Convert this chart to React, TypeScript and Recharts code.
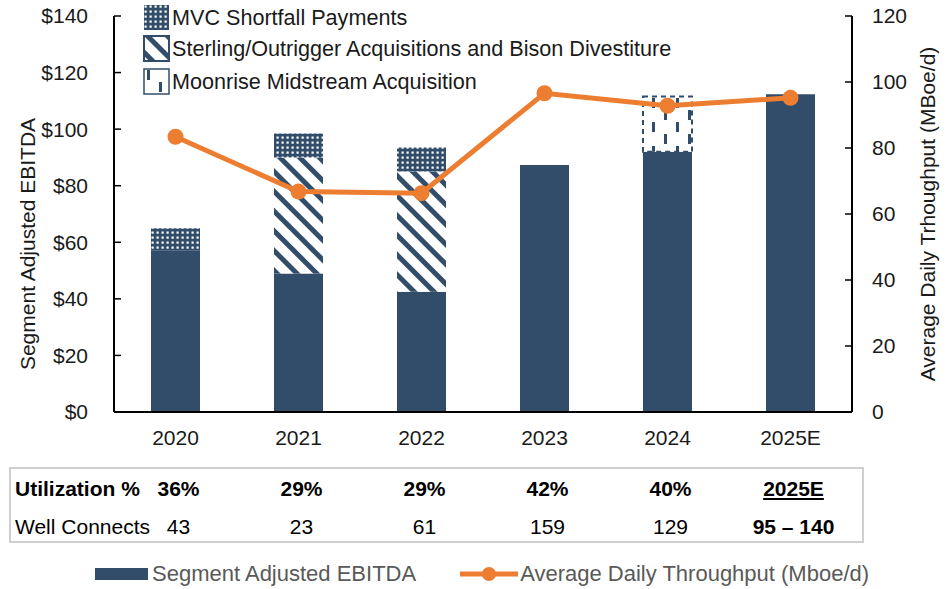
import React from 'react';
import { ComposedChart, Bar, Line, XAxis, YAxis } from 'recharts';

const years = ['2020', '2021', '2022', '2023', '2024', '2025E'];
const baseEbitda = [57, 49, 42.5, 87.3, 92, 112.3];
const sterlingOutrigger = [null, 41, 42.5, null, null, null];
const moonrise = [null, null, null, null, 19.5, null];
const mvcShortfall = [8, 8.5, 8.5, null, null, null];
const throughput = [83.4, 66.8, 66.3, 96.6, 92.8, 95.2];

const utilization = ['36%', '29%', '29%', '42%', '40%', '2025E'];
const wellConnects = ['43', '23', '61', '159', '129', '95 – 140'];
const leftTicks = [0, 20, 40, 60, 80, 100, 120, 140];
const rightTicks = [0, 20, 40, 60, 80, 100, 120];

const NAVY = '#324D6A';
const ORANGE = '#ED7D31';
const FONT = '"Liberation Sans", Arial, sans-serif';
const FS = 21;

const W = 947;
const H = 589;
const PLOT_LEFT = 114;
const PLOT_RIGHT = 852;

const data = years.map((year, i) => ({
  year,
  base: baseEbitda[i],
  sterling: sterlingOutrigger[i],
  moonrise: moonrise[i],
  mvc: mvcShortfall[i],
  throughput: throughput[i],
}));

function PatternDefs({ prefix }: { prefix: string }) {
  return (
    <defs>
      <pattern id={`${prefix}-mvc`} width={5} height={5} patternUnits="userSpaceOnUse">
        <rect width={5} height={5} fill={NAVY} />
        <rect x={1.5} y={1.5} width={2.2} height={2.2} fill="#fff" />
      </pattern>
      <pattern id={`${prefix}-sterling`} width={14} height={14} patternUnits="userSpaceOnUse" patternTransform="rotate(-45)">
        <rect width={14} height={14} fill="#fff" />
        <rect width={5} height={14} fill={NAVY} />
      </pattern>
      <pattern id={`${prefix}-moonrise`} width={24} height={24} patternUnits="userSpaceOnUse">
        <rect width={24} height={24} fill="#fff" />
        <rect x={4} y={2} width={3} height={10} fill={NAVY} />
        <rect x={16} y={14} width={3} height={10} fill={NAVY} />
      </pattern>
    </defs>
  );
}

function Swatch({ kind }: { kind: 'mvc' | 'sterling' | 'moonrise' }) {
  const p = `lg-${kind}`;
  return (
    <svg width={27} height={27} style={{ display: 'block' }}>
      <PatternDefs prefix={p} />
      <rect
        x={1}
        y={1}
        width={25}
        height={25}
        fill={`url(#${p}-${kind})`}
        stroke={kind === 'mvc' ? 'none' : NAVY}
        strokeWidth={kind === 'sterling' ? 2 : 1.5}
      />
    </svg>
  );
}

const topLegend: { kind: 'mvc' | 'sterling' | 'moonrise'; label: string }[] = [
  { kind: 'mvc', label: 'MVC Shortfall Payments' },
  { kind: 'sterling', label: 'Sterling/Outrigger Acquisitions and Bison Divestiture' },
  { kind: 'moonrise', label: 'Moonrise Midstream Acquisition' },
];

export default function App() {
  const catW = (PLOT_RIGHT - PLOT_LEFT) / years.length;
  return (
    <div style={{ position: 'absolute', left: 0, top: 0, width: W, height: H, fontFamily: FONT, background: '#fff' }}>
      <ComposedChart
        width={W}
        height={H}
        data={data}
        margin={{ top: 16, right: 0, left: 0, bottom: 147 }}
        barSize={49}
        style={{ fontFamily: FONT }}
      >
        <PatternDefs prefix="ch" />
        <XAxis
          dataKey="year"
          tickLine={false}
          axisLine={{ stroke: '#000', strokeWidth: 2 }}
          tick={{ fontSize: FS, fill: '#1a1a1a' }}
          tickMargin={12}
          height={30}
          interval={0}
        />
        <YAxis
          yAxisId="left"
          width={PLOT_LEFT}
          domain={[0, 140]}
          ticks={leftTicks}
          tickFormatter={(v) => `$${v}`}
          tick={{ fontSize: FS, fill: '#1a1a1a' }}
          axisLine={{ stroke: '#000', strokeWidth: 2 }}
          tickLine={{ stroke: '#000', strokeWidth: 1.5 }}
          tickSize={-7}
          tickMargin={33}
          label={{ value: 'Segment Adjusted EBITDA', angle: -90, position: 'center', dx: -29, dy: 30, style: { fontSize: FS, fill: '#1a1a1a', textAnchor: 'middle' } }}
        />
        <YAxis
          yAxisId="right"
          orientation="right"
          width={W - PLOT_RIGHT}
          domain={[0, 120]}
          ticks={rightTicks}
          tick={{ fontSize: FS, fill: '#1a1a1a' }}
          axisLine={{ stroke: '#000', strokeWidth: 2 }}
          tickLine={{ stroke: '#000', strokeWidth: 1.5 }}
          tickSize={-7}
          tickMargin={27}
          label={{ value: 'Average Daily Trhoughput (MBoe/d)', angle: -90, position: 'center', dx: 28, style: { fontSize: FS, fill: '#1a1a1a', textAnchor: 'middle' } }}
        />
        <Bar yAxisId="left" dataKey="base" stackId="e" fill={NAVY} isAnimationActive={false} />
        <Bar yAxisId="left" dataKey="sterling" stackId="e" fill="url(#ch-sterling)" isAnimationActive={false} />
        <Bar yAxisId="left" dataKey="moonrise" stackId="e" fill="url(#ch-moonrise)" stroke={NAVY} strokeWidth={2} strokeDasharray="5 4" isAnimationActive={false} />
        <Bar yAxisId="left" dataKey="mvc" stackId="e" fill="url(#ch-mvc)" isAnimationActive={false} />
        <Line
          yAxisId="right"
          dataKey="throughput"
          stroke={ORANGE}
          strokeWidth={5}
          dot={{ r: 8, fill: ORANGE, stroke: ORANGE, strokeWidth: 0 }}
          activeDot={false}
          isAnimationActive={false}
        />
      </ComposedChart>

      {/* top pattern legend */}
      {topLegend.map((item, i) => (
        <div
          key={item.kind}
          style={{ position: 'absolute', left: 143, top: [4, 35, 68][i], display: 'flex', alignItems: 'center', gap: 2, fontSize: 21.6, color: '#1a1a1a', whiteSpace: 'nowrap' }}
        >
          <Swatch kind={item.kind} />
          <span>{item.label}</span>
        </div>
      ))}

      {/* utilization / well connects table */}
      <div style={{ position: 'absolute', left: 9, top: 467, width: 855, height: 76, border: '2px solid #cfcfcf', boxSizing: 'border-box' }} />
      <div style={{ position: 'absolute', left: 15, top: 477, fontSize: FS, fontWeight: 'bold', color: '#000' }}>Utilization %</div>
      <div style={{ position: 'absolute', left: 15, top: 515, fontSize: FS, color: '#000' }}>Well Connects</div>
      {years.map((y, i) => {
        const cx = PLOT_LEFT + catW * (i + 0.5) + 3;
        const last = i === years.length - 1;
        return (
          <React.Fragment key={y}>
            <div style={{ position: 'absolute', left: cx - 60, width: 120, top: 477, textAlign: 'center', fontSize: FS, fontWeight: 'bold', textDecoration: last ? 'underline' : 'none', color: '#000' }}>
              {utilization[i]}
            </div>
            <div style={{ position: 'absolute', left: cx - 60, width: 120, top: 515, textAlign: 'center', fontSize: FS, fontWeight: last ? 'bold' : 'normal', color: '#000' }}>
              {wellConnects[i]}
            </div>
          </React.Fragment>
        );
      })}

      {/* bottom series legend */}
      <div style={{ position: 'absolute', left: 95, top: 561, display: 'flex', alignItems: 'center', fontSize: 22, color: '#595959', whiteSpace: 'nowrap' }}>
        <div style={{ width: 53, height: 12, background: NAVY, marginRight: 4 }} />
        <span>Segment Adjusted EBITDA</span>
        <svg width={58} height={20} style={{ marginLeft: 44, marginRight: 2 }}>
          <line x1={0} y1={10} x2={58} y2={10} stroke={ORANGE} strokeWidth={5} />
          <circle cx={29} cy={10} r={7} fill={ORANGE} />
        </svg>
        <span>Average Daily Throughput (Mboe/d)</span>
      </div>
    </div>
  );
}
